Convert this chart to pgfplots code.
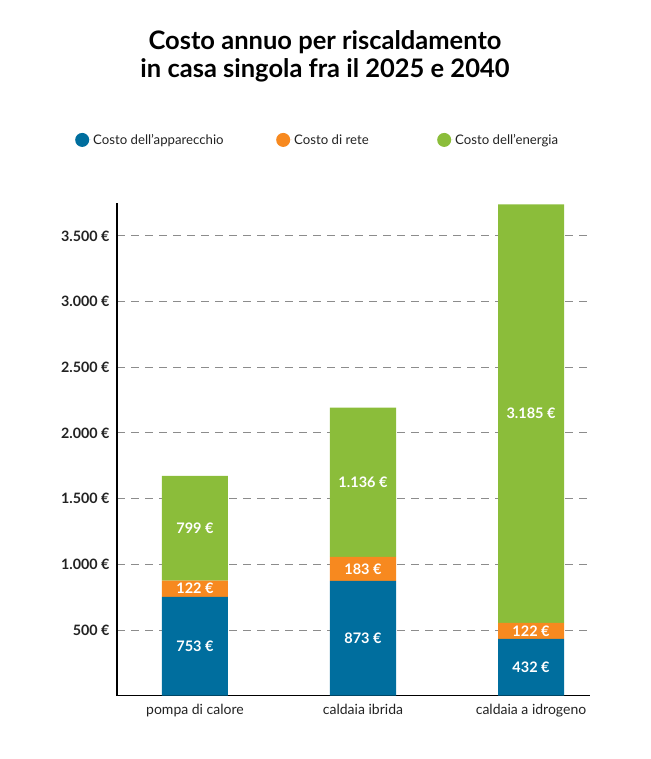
\documentclass[border=0pt]{standalone}
\usepackage{pgfplots}
\pgfplotsset{compat=1.18}
\usepackage{fontspec}
\setmainfont{Lato}
\definecolor{cblue}{HTML}{006E9E}
\definecolor{corange}{HTML}{F7891F}
\definecolor{cgreen}{HTML}{8BBD3A}
\definecolor{ctext}{HTML}{222222}
\begin{document}
\begin{tikzpicture}[x=1pt,y=1pt]
\useasboundingbox (0,0) rectangle (650,759);
\node[font=\fontsize{25.5}{28}\selectfont\bfseries, align=center, text=black] at (325,703) {Costo annuo per riscaldamento\\in casa singola fra il 2025 e 2040};
\begin{axis}[
  at={(117pt,63.3pt)}, anchor=south west,
  scale only axis, width=473pt, height=492.7pt,
  xmin=-0.464, xmax=2.351, ymin=0, ymax=3750,
  ybar stacked, bar width=66pt,
  axis x line=bottom, axis y line=left,
  axis line style={black, line width=1.5pt, -},
  major tick length=0pt,
  xtick={0,1,2},
  xticklabels={pompa di calore, caldaia ibrida, caldaia a idrogeno},
  xticklabel style={font=\fontsize{14}{16}\selectfont, text=ctext, yshift=-5pt},
  ytick={500,1000,1500,2000,2500,3000,3500},
  yticklabels={500 €, 1.000 €, 1.500 €, 2.000 €, 2.500 €, 3.000 €, 3.500 €},
  yticklabel style={font=\fontsize{14.3}{16}\selectfont\bfseries, text=ctext, xshift=-4pt},
  ymajorgrids,
  grid style={dash pattern=on 8pt off 6pt, black!45, line width=0.9pt},
  legend columns=3,
  legend style={at={(-0.0888,1.128)}, anchor=west, draw=none, fill=none, inner sep=0pt,
    font=\fontsize{13.2}{15}\selectfont, text=ctext,
    nodes={inner sep=2pt},
    /tikz/every even column/.append style={column sep=0pt}},
  legend image code/.code={\path (0pt,0pt) -- (16pt,0pt); \fill[#1, draw=none] (7pt,0pt) circle (7pt);},
]
\addplot[fill=cblue, draw=none] coordinates {(0,753) (1,873) (2,432)};
\addlegendentry{\makebox[181pt][l]{Costo dell'apparecchio}}
\addplot[fill=corange, draw=none] coordinates {(0,122) (1,183) (2,122)};
\addlegendentry{\makebox[141pt][l]{Costo di rete}}
\addplot[fill=cgreen, draw=none] coordinates {(0,799) (1,1136) (2,3185)};
\addlegendentry{Costo dell'energia}
\end{axis}
\begin{axis}[
  at={(117pt,63.3pt)}, anchor=south west,
  scale only axis, width=473pt, height=492.7pt,
  xmin=-0.464, xmax=2.351, ymin=0, ymax=3750,
  hide axis,
]
\addplot[draw=none, nodes near coords, point meta=explicit symbolic,
  nodes near coords style={anchor=center, font=\fontsize{14.5}{16}\selectfont\bfseries, text=white}]
  coordinates {
  (0,376.5) [753 €]
  (0,814) [122 €]
  (0,1274.5) [799 €]
  (1,436.5) [873 €]
  (1,964.5) [183 €]
  (1,1624) [1.136 €]
  (2,216) [432 €]
  (2,493) [122 €]
  (2,2146.5) [3.185 €]
  };
\end{axis}
\end{tikzpicture}
\end{document}
